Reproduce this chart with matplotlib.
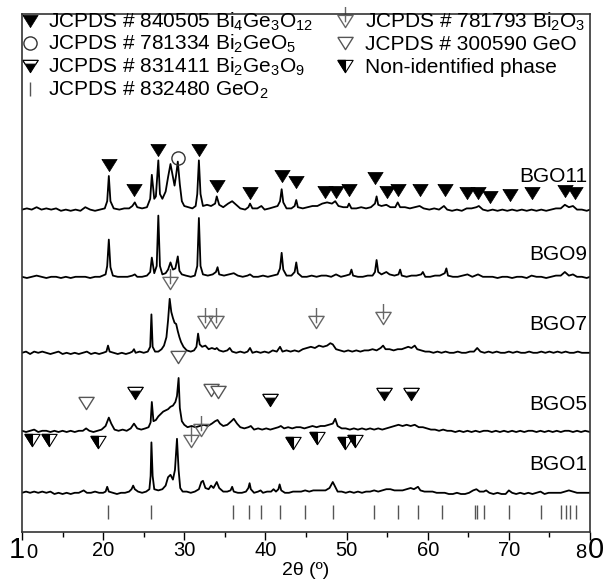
import numpy as np
import matplotlib
matplotlib.use('Agg')
import matplotlib.pyplot as plt
from matplotlib.path import Path

plt.rcParams['font.family'] = ['Liberation Sans', 'DejaVu Sans']
plt.rcParams['mathtext.default'] = 'regular'

# %% data (2theta in degrees, intensity in arbitrary units above each baseline)
bgo11 = [(10.0, 2), (10.6, 3), (11.2, 2), (11.8, 4), (12.4, 2), (13.0, 3), (13.6, 2), (14.2, 3), (14.8, 1),
         (15.4, 2), (16.0, 1), (16.6, 2), (17.2, 1), (17.8, 4), (18.4, 2), (19.0, 1), (19.6, 2), (20.2, 3),
         (20.5, 9), (20.7, 30), (20.9, 9), (21.3, 3), (22.0, 2), (22.6, 3), (23.2, 3), (23.6, 5), (23.9, 8),
         (24.2, 4), (24.8, 3), (25.4, 4), (25.8, 11), (26.0, 31), (26.3, 11), (26.5, 13), (26.8, 43), (27.0, 15),
         (27.3, 11), (27.7, 17), (28.0, 29), (28.3, 40), (28.6, 29), (28.8, 22), (29.0, 31), (29.2, 42),
         (29.45, 23), (29.7, 9), (30.0, 5), (30.5, 4), (31.0, 3), (31.4, 5), (31.6, 15), (31.8, 43), (32.0, 15),
         (32.3, 5), (32.8, 6), (33.3, 5), (33.8, 7), (34.0, 13), (34.3, 6), (34.8, 4), (35.4, 7), (35.9, 9),
         (36.4, 6), (36.9, 3), (37.5, 2), (37.9, 4), (38.1, 7), (38.4, 3), (39.0, 3), (39.5, 5), (39.9, 2),
         (40.5, 3), (41.0, 4), (41.5, 5), (41.8, 9), (42.0, 19), (42.2, 8), (42.6, 3), (43.2, 3), (43.6, 5),
         (43.8, 10), (44.0, 4), (44.6, 3), (45.2, 4), (45.8, 5), (46.4, 5), (47.0, 7), (47.6, 8), (48.2, 7),
         (48.6, 9), (49.0, 5), (49.6, 4), (50.1, 4), (50.3, 7), (50.6, 3), (51.2, 3), (51.8, 4), (52.4, 3),
         (53.0, 4), (53.5, 7), (53.7, 13), (53.9, 6), (54.3, 5), (54.9, 6), (55.4, 4), (56.0, 4), (56.3, 8),
         (56.6, 4), (57.2, 4), (57.8, 3), (58.4, 4), (59.0, 5), (59.5, 3), (60.2, 2), (60.8, 3), (61.4, 2),
         (62.0, 5), (62.4, 2), (63.0, 1), (63.6, 2), (64.2, 1), (64.8, 3), (65.4, 3), (66.0, 4), (66.3, 5),
         (66.8, 2), (67.4, 1), (68.0, 2), (68.6, 1), (69.2, 2), (69.8, 1), (70.4, 2), (71.0, 1), (71.6, 2),
         (72.2, 1), (72.8, 2), (73.4, 1), (74.0, 2), (74.6, 1), (75.2, 2), (75.8, 3), (76.4, 3), (76.9, 6),
         (77.4, 4), (77.9, 5), (78.4, 2), (79.0, 2), (79.6, 1), (80.0, 2)]

bgo9 = [(10.0, 1), (10.6, 0), (11.2, 1), (11.8, 2), (12.4, 1), (13.0, 0), (13.6, 1), (14.2, 1), (14.8, 0),
        (15.4, 1), (16.0, 0), (16.6, 1), (17.2, 1), (17.8, 1), (18.4, 0), (19.0, 1), (19.6, 1), (20.3, 3),
        (20.5, 10), (20.7, 32), (20.9, 9), (21.2, 2), (21.8, 1), (22.4, 1), (23.0, 1), (23.6, 2), (23.9, 3),
        (24.2, 1), (24.8, 1), (25.4, 2), (25.8, 5), (26.0, 17), (26.3, 4), (26.6, 10), (26.8, 52), (27.0, 10),
        (27.3, 3), (27.7, 4), (28.0, 7), (28.3, 13), (28.6, 7), (28.9, 8), (29.2, 18), (29.4, 6), (29.7, 3),
        (30.2, 2), (30.8, 1), (31.3, 2), (31.6, 10), (31.8, 50), (32.0, 10), (32.3, 3), (32.9, 2), (33.5, 3),
        (33.9, 5), (34.1, 9), (34.3, 3), (34.9, 2), (35.5, 3), (36.1, 4), (36.6, 2), (37.2, 1), (37.8, 2),
        (38.1, 3), (38.5, 1), (39.1, 1), (39.7, 2), (40.3, 1), (40.9, 2), (41.5, 3), (41.8, 8), (42.0, 21),
        (42.2, 7), (42.6, 2), (43.2, 2), (43.6, 5), (43.8, 13), (44.0, 4), (44.5, 1), (45.1, 1), (45.7, 2),
        (46.3, 1), (46.9, 2), (47.5, 2), (48.1, 1), (48.7, 3), (49.3, 1), (49.9, 2), (50.4, 3), (50.6, 7),
        (50.8, 2), (51.4, 1), (52.0, 1), (52.6, 2), (53.2, 2), (53.5, 5), (53.7, 15), (53.9, 5), (54.3, 3),
        (54.9, 5), (55.3, 3), (55.9, 2), (56.4, 3), (56.6, 7), (56.8, 2), (57.4, 1), (58.0, 2), (58.6, 2),
        (59.2, 3), (59.4, 5), (59.7, 1), (60.3, 1), (60.9, 2), (61.5, 2), (62.1, 4), (62.3, 8), (62.5, 2),
        (63.1, 1), (63.7, 1), (64.3, 2), (64.9, 3), (65.5, 1), (66.2, 3), (66.8, 1), (67.4, 1), (68.0, 1),
        (68.6, 0), (69.2, 1), (69.8, 1), (70.4, 0), (71.0, 1), (71.6, 1), (72.2, 0), (72.8, 2), (73.4, 1),
        (74.0, 1), (74.6, 0), (75.2, 1), (75.8, 2), (76.4, 2), (76.9, 5), (77.4, 2), (77.9, 3), (78.4, 1),
        (79.0, 1), (79.6, 0), (80.0, 1)]

bgo7 = [(10.0, 1), (10.5, 2), (11.0, 0), (11.5, 2), (12.0, 1), (12.5, 2), (13.0, 1), (13.5, 0), (14.0, 1),
        (14.5, 2), (15.0, 0), (15.5, 1), (16.0, 0), (16.5, 1), (17.0, 0), (17.5, 1), (18.0, 2), (18.5, 0),
        (19.0, 1), (19.5, 0), (20.0, 1), (20.4, 2), (20.6, 7), (20.8, 2), (21.3, 1), (21.8, 0), (22.3, 1),
        (22.8, 0), (23.3, 1), (23.6, 2), (23.8, 4), (24.0, 1), (24.5, 2), (25.0, 1), (25.5, 2), (25.8, 6),
        (25.95, 33), (26.1, 6), (26.4, 2), (26.8, 2), (27.2, 4), (27.5, 7), (27.8, 14), (28.0, 28), (28.2, 46),
        (28.4, 35), (28.6, 30), (28.8, 26), (29.0, 25), (29.2, 19), (29.4, 14), (29.6, 10), (29.9, 6),
        (30.3, 3), (30.8, 2), (31.2, 3), (31.5, 6), (31.7, 17), (31.9, 8), (32.2, 6), (32.6, 7), (33.0, 4),
        (33.4, 5), (33.8, 4), (34.0, 5), (34.3, 3), (34.8, 2), (35.3, 3), (35.6, 5), (35.9, 2), (36.4, 1),
        (36.9, 2), (37.4, 1), (37.8, 2), (38.1, 5), (38.4, 1), (38.9, 2), (39.4, 1), (39.9, 2), (40.4, 1),
        (40.9, 3), (41.4, 2), (41.8, 6), (42.1, 2), (42.6, 3), (43.1, 2), (43.6, 3), (44.1, 2), (44.6, 4),
        (45.1, 5), (45.6, 6), (46.1, 5), (46.6, 7), (47.1, 6), (47.6, 7), (48.0, 9), (48.3, 8), (48.7, 4),
        (49.2, 3), (49.7, 2), (50.2, 3), (50.7, 2), (51.2, 3), (51.7, 2), (52.2, 3), (52.7, 3), (53.2, 4),
        (53.7, 3), (54.2, 5), (54.5, 7), (54.8, 4), (55.3, 4), (55.8, 3), (56.3, 4), (56.8, 4), (57.2, 5),
        (57.6, 6), (58.0, 5), (58.4, 7), (58.7, 4), (59.2, 3), (59.7, 2), (60.2, 2), (60.7, 1), (61.2, 2),
        (61.7, 1), (62.2, 2), (62.7, 1), (63.2, 1), (63.7, 2), (64.2, 1), (64.7, 1), (65.2, 2), (65.7, 2),
        (66.1, 5), (66.5, 2), (67.0, 1), (67.5, 2), (68.0, 1), (68.5, 2), (69.0, 1), (69.5, 1), (70.0, 2),
        (70.5, 1), (71.0, 2), (71.5, 1), (72.0, 1), (72.5, 2), (73.0, 1), (73.5, 1), (74.0, 2), (74.5, 1),
        (75.0, 2), (75.5, 1), (76.0, 2), (76.5, 1), (77.0, 2), (77.5, 1), (78.0, 1), (78.5, 2), (79.0, 1),
        (79.5, 1), (80.0, 1)]

bgo5 = [(10.0, 1), (10.5, 0), (11.0, 1), (11.5, 2), (12.0, 0), (12.5, 1), (13.0, 1), (13.5, 0), (14.0, 1),
        (14.5, 0), (15.0, 1), (15.5, 0), (16.0, 1), (16.5, 0), (17.0, 1), (17.5, 1), (17.9, 3), (18.3, 1),
        (18.8, 0), (19.3, 1), (19.8, 2), (20.3, 5), (20.7, 12), (21.0, 7), (21.4, 2), (21.9, 1), (22.4, 2),
        (22.9, 1), (23.4, 3), (23.8, 7), (24.2, 3), (24.7, 2), (25.2, 3), (25.6, 4), (25.85, 8), (26.0, 25),
        (26.2, 9), (26.5, 10), (26.8, 13), (27.1, 15), (27.4, 17), (27.7, 18), (28.0, 19), (28.3, 21),
        (28.6, 22), (28.9, 25), (29.1, 30), (29.3, 45), (29.45, 20), (29.7, 9), (30.0, 6), (30.4, 4),
        (30.9, 5), (31.4, 4), (31.9, 5), (32.4, 6), (32.9, 5), (33.4, 7), (33.8, 9), (34.1, 10), (34.4, 7),
        (34.8, 5), (35.3, 6), (35.8, 9), (36.1, 11), (36.5, 7), (36.9, 4), (37.4, 3), (37.9, 4), (38.2, 5),
        (38.6, 2), (39.1, 3), (39.6, 2), (40.1, 3), (40.6, 2), (41.1, 3), (41.6, 4), (41.9, 5), (42.3, 3),
        (42.8, 4), (43.3, 3), (43.8, 4), (44.3, 4), (44.8, 3), (45.3, 4), (45.8, 5), (46.3, 4), (46.8, 5),
        (47.3, 5), (47.8, 6), (48.3, 7), (48.6, 11), (48.9, 5), (49.4, 3), (49.9, 3), (50.4, 2), (50.9, 3),
        (51.4, 2), (51.9, 3), (52.4, 2), (52.9, 3), (53.4, 2), (53.9, 3), (54.4, 2), (54.9, 3), (55.4, 4),
        (55.9, 5), (56.4, 6), (56.9, 5), (57.4, 6), (57.9, 5), (58.4, 6), (58.9, 4), (59.4, 4), (59.9, 3),
        (60.4, 2), (60.9, 2), (61.4, 1), (61.9, 2), (62.4, 1), (62.9, 1), (63.4, 0), (63.9, 1), (64.4, 0),
        (64.9, 1), (65.4, 0), (65.9, 1), (66.4, 0), (66.9, 1), (67.4, 1), (67.9, 0), (68.4, 1), (68.9, 0),
        (69.4, 1), (69.9, 0), (70.4, 1), (70.9, 0), (71.4, 1), (71.9, 0), (72.4, 1), (72.9, 1), (73.4, 0),
        (73.9, 1), (74.4, 0), (74.9, 1), (75.4, 0), (75.9, 1), (76.4, 0), (76.9, 1), (77.4, 1), (77.9, 0),
        (78.4, 1), (78.9, 0), (79.4, 1), (80.0, 0)]

bgo1 = [(10.0, 1), (10.5, 2), (11.0, 1), (11.5, 2), (12.0, 1), (12.5, 2), (13.0, 1), (13.5, 2), (14.0, 0),
        (14.5, 1), (15.0, 0), (15.5, 1), (16.0, 0), (16.5, 1), (17.0, 1), (17.6, 3), (18.0, 1), (18.5, 1),
        (19.0, 2), (19.5, 1), (20.0, 1), (20.3, 2), (20.5, 6), (20.7, 2), (21.2, 1), (21.7, 0), (22.2, 1),
        (22.7, 1), (23.2, 2), (23.5, 4), (23.7, 7), (23.9, 4), (24.3, 2), (24.8, 1), (25.3, 2), (25.7, 4),
        (25.85, 15), (25.95, 43), (26.1, 15), (26.3, 4), (26.8, 3), (27.3, 4), (27.7, 7), (28.0, 14),
        (28.3, 16), (28.6, 12), (28.85, 20), (29.1, 46), (29.3, 20), (29.5, 5), (29.8, 2), (30.3, 2),
        (30.8, 1), (31.3, 2), (31.8, 4), (32.1, 10), (32.3, 11), (32.6, 5), (33.0, 4), (33.3, 7), (33.6, 5),
        (34.0, 10), (34.3, 5), (34.8, 2), (35.3, 2), (35.7, 3), (35.9, 6), (36.1, 2), (36.6, 1), (37.1, 1),
        (37.6, 2), (37.9, 5), (38.05, 9), (38.2, 4), (38.6, 1), (39.1, 2), (39.4, 3), (39.7, 1), (40.2, 2),
        (40.7, 2), (41.0, 4), (41.3, 2), (41.6, 4), (41.75, 8), (41.95, 3), (42.4, 1), (42.9, 1), (43.4, 2),
        (43.9, 2), (44.4, 2), (44.9, 3), (45.4, 2), (45.9, 3), (46.4, 3), (46.9, 3), (47.4, 3), (47.9, 5),
        (48.3, 10), (48.6, 6), (48.9, 2), (49.4, 2), (49.9, 1), (50.4, 2), (50.9, 1), (51.4, 2), (51.9, 1),
        (52.4, 2), (52.9, 2), (53.4, 3), (53.9, 2), (54.4, 3), (54.9, 4), (55.4, 4), (55.9, 3), (56.4, 3),
        (56.9, 3), (57.4, 4), (57.9, 5), (58.3, 4), (58.8, 6), (59.1, 3), (59.6, 2), (60.1, 2), (60.6, 2),
        (61.1, 1), (61.6, 1), (62.1, 1), (62.6, 0), (63.1, 0), (63.6, 1), (64.1, 0), (64.6, 0), (65.1, 1),
        (65.6, 3), (66.0, 4), (66.4, 2), (66.9, 2), (67.2, 3), (67.6, 1), (68.1, 0), (68.6, 1), (69.1, 0),
        (69.6, 0), (70.0, 3), (70.4, 1), (70.9, 0), (71.4, 1), (71.9, 0), (72.4, 1), (72.9, 0), (73.4, 1),
        (73.9, 2), (74.4, 0), (74.9, 1), (75.4, 1), (75.9, 1), (76.4, 1), (76.9, 2), (77.4, 3), (77.9, 2),
        (78.4, 1), (78.9, 1), (79.4, 1), (80.0, 1)]

sample_names = ['BGO11', 'BGO9', 'BGO7', 'BGO5', 'BGO1']
patterns = [bgo11, bgo9, bgo7, bgo5, bgo1]
offsets = [320, 254, 178, 100, 38]
label_heights = [356, 278, 207, 128, 67]
intensity_scale = 1.2

# reference lines JCPDS 832480 GeO2
geo2_lines = [20.6, 25.9, 36.0, 38.0, 39.4, 41.8, 44.9, 48.3, 53.4, 56.3, 58.8, 61.8,
              65.8, 66.1, 66.9, 70.0, 73.9, 76.4, 77.1, 77.5, 78.3]

# phase markers: 2theta and vertical position
bi4ge3o12_x = [20.7, 23.8, 26.8, 31.8, 34.0, 38.1, 42.0, 43.8, 47.3, 48.7, 50.3, 53.5, 55.0, 56.3,
               59.0, 62.1, 64.8, 66.2, 67.7, 70.1, 72.8, 76.9, 78.1]
bi4ge3o12_y = [367, 342, 382, 382, 346, 339, 356, 350, 340, 340, 342, 354, 340, 342,
               342, 342, 339, 339, 335, 337, 339, 341, 339]
bi2geo5_x = [29.2]
bi2geo5_y = [374]
bi2o3_x = [28.3, 32.6, 33.9, 46.2, 54.5, 30.8, 32.0]
bi2o3_y = [249, 210, 210, 210, 214, 91, 102]
geo_x = [17.9, 29.2, 33.3, 34.1]
geo_y = [129, 175, 142, 140]
bi2ge3o9_x = [23.9, 40.6, 54.6, 57.9]
bi2ge3o9_y = [139, 132, 138, 138]
unknown_x = [11.2, 13.3, 19.4, 43.4, 46.3, 49.8, 51.0]
unknown_y = [92, 92, 90, 89, 94, 89, 91]

legend_labels = ['JCPDS # 840505 Bi$_4$Ge$_3$O$_{12}$', 'JCPDS # 781334 Bi$_2$GeO$_5$',
                 'JCPDS # 831411 Bi$_2$Ge$_3$O$_9$', 'JCPDS # 832480 GeO$_2$',
                 'JCPDS # 781793 Bi$_2$O$_3$', 'JCPDS # 300590 GeO', 'Non-identified phase']
legend_keys = ['bi4ge3o12', 'bi2geo5', 'bi2ge3o9', 'geo2', 'bi2o3', 'geo', 'unknown']

# %% marker shapes
tri = Path([(-1, 0.8), (1, 0.8), (0, -0.8), (-1, 0.8)])
tri_band = Path([(-1, 0.8), (1, 0.8), (0.68, 0.3), (-0.68, 0.3), (-1, 0.8)])
tri_left = Path([(-1, 0.8), (0, 0.8), (0, -0.8), (-1, 0.8)])
tri_cross = Path([(-1, 0.8), (1, 0.8), (0, -0.8), (-1, 0.8), (0, 1.9), (0, -0.1)],
                 [Path.MOVETO, Path.LINETO, Path.LINETO, Path.CLOSEPOLY, Path.MOVETO, Path.LINETO])

ms = 11
styles = {
    'bi4ge3o12': [dict(marker=tri, ms=ms, mfc='black', mec='black', mew=0.5)],
    'bi2geo5': [dict(marker='o', ms=9.5, mfc='none', mec='#333333', mew=1)],
    'bi2ge3o9': [dict(marker=tri, ms=ms, mfc='black', mec='black', mew=0.8),
                 dict(marker=tri_band, ms=ms, mfc='white', mec='black', mew=0.8)],
    'geo2': [dict(marker='|', ms=10, mec='#555555', mew=1)],
    'bi2o3': [dict(marker=tri_cross, ms=ms * 1.9, mfc='none', mec='#666666', mew=1)],
    'geo': [dict(marker=tri, ms=ms, mfc='white', mec='#555555', mew=1)],
    'unknown': [dict(marker=tri, ms=ms, mfc='white', mec='black', mew=0.8),
                dict(marker=tri_left, ms=ms, mfc='black', mec='black', mew=0.8)],
}

fig = plt.figure(figsize=(6.05, 5.81), dpi=100)
ax = fig.add_axes([22 / 605, 49 / 581, 568 / 605, 518 / 581])

for name, pat, off, ly in zip(sample_names, patterns, offsets, label_heights):
    tt = np.array([p[0] for p in pat])
    ii = np.array([p[1] for p in pat])
    ax.plot(tt, ii * intensity_scale + off, color='black', lw=1.3)
    ax.text(0.996, ly, name, transform=ax.get_yaxis_transform(), ha='right', va='center', fontsize=15)

ax.vlines(geo2_lines, 13, 27, color='#555555', lw=1)

phase_marks = {'bi4ge3o12': (bi4ge3o12_x, bi4ge3o12_y), 'bi2geo5': (bi2geo5_x, bi2geo5_y),
               'bi2ge3o9': (bi2ge3o9_x, bi2ge3o9_y), 'bi2o3': (bi2o3_x, bi2o3_y),
               'geo': (geo_x, geo_y), 'unknown': (unknown_x, unknown_y)}
for key, (px, py) in phase_marks.items():
    for st in styles[key]:
        ax.plot(px, py, ls='none', **st)

# legend drawn by hand: two columns, evenly spaced rows
col_sym = [0.014, 0.569]
col_txt = [0.046, 0.604]
row_sym = [0.9865, 0.944, 0.900, 0.855]
row_txt = [0.973, 0.9305, 0.886, 0.8417]
for i, (key, lab) in enumerate(zip(legend_keys, legend_labels)):
    c, r = (0, i) if i < 4 else (1, i - 4)
    for st in styles[key]:
        ax.plot([col_sym[c]], [row_sym[r]], ls='none', transform=ax.transAxes, clip_on=False, **st)
    ax.text(col_txt[c], row_txt[r], lab, transform=ax.transAxes, ha='left', va='baseline', fontsize=15)

ax.set_xlim(10, 80)
ax.set_ylim(0, 518)
ax.set_yticks([])
ax.set_xticks([10, 20, 30, 40, 50, 60, 70, 80])
ax.set_xticklabels(['', '20', '30', '40', '50', '60', '70', ''])
ax.set_xticks([15, 25, 35, 45, 55, 65, 75], minor=True)
ax.tick_params(axis='x', which='major', direction='out', length=6, width=1, labelsize=14.5, pad=0.5)
ax.tick_params(axis='x', which='minor', direction='out', length=3.5, width=1)
for s in ax.spines.values():
    s.set_color('#333333')
    s.set_linewidth(1.2)

# odd-sized end labels as in the original
tr = ax.get_xaxis_transform()
ax.text(10.3, -0.051, '1', transform=tr, ha='right', va='baseline', fontsize=21)
ax.text(10.5, -0.051, '0', transform=tr, ha='left', va='baseline', fontsize=14.5)
ax.text(79.6, -0.051, '8', transform=tr, ha='right', va='baseline', fontsize=14.5)
ax.text(79.7, -0.051, '0', transform=tr, ha='left', va='baseline', fontsize=21)

ax.set_xlabel('2θ (º)', fontsize=14)
ax.xaxis.set_label_coords(0.5, -0.058)

fig.savefig('out.png', dpi=100)
